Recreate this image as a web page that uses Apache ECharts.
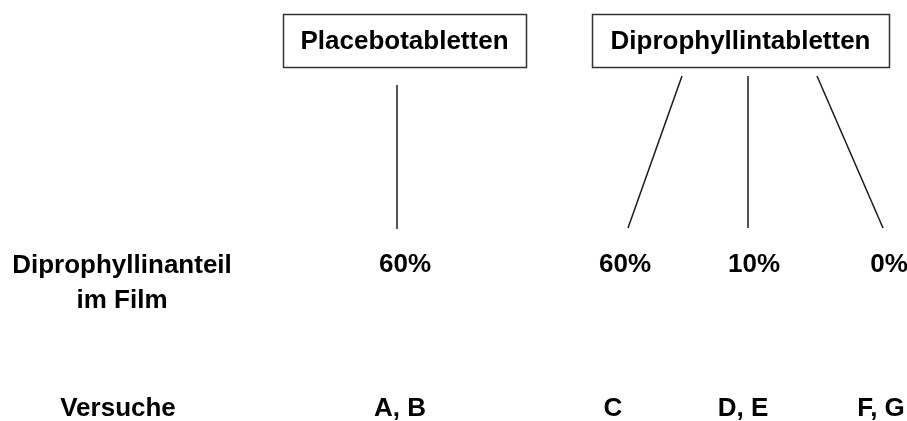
<!DOCTYPE html>
<html>
<head>
<meta charset="utf-8">
<script src="https://cdn.jsdelivr.net/npm/echarts@6/dist/echarts.min.js"></script>
<style>
html, body { margin: 0; padding: 0; background: #fff; }
#chart { width: 907px; height: 421px; }
</style>
</head>
<body>
<div id="chart"></div>
<script>
// diagram content
const groups = ["Placebotabletten", "Diprophyllintabletten"]
const shares = ["60%", "60%", "10%", "0%"]
const trials = ["A, B", "C", "D, E", "F, G"]
const rowLabels = ["Diprophyllinanteil\nim Film", "Versuche"]

// layout on a hidden pixel-sized axis (907 x 421)
const groupBox = [[283, 14, 526, 67], [592, 14, 889, 67]]
const linkTop = [[397, 85], [682, 76], [748, 76], [817, 76]]
const linkBottom = [[397, 229], [628, 228], [748, 228], [883, 228]]
const shareX = [405, 625, 754, 889]
const trialX = [400, 613, 743, 881]
const rowLabelPos = [[122, 283], [118, 409]]
const shareY = 265
const trialY = 409

const font = "Liberation Sans, Arial, sans-serif"
const textStyle = {
  show: true,
  position: "inside",
  color: "#000",
  fontFamily: font,
  fontWeight: "bold",
  fontSize: 26,
  lineHeight: 35,
  align: "center",
  verticalAlign: "middle",
  formatter: "{b}"
}

const textData = []
shares.forEach((s, i) => textData.push({ name: s, value: [shareX[i], shareY] }))
trials.forEach((t, i) => textData.push({ name: t, value: [trialX[i], trialY] }))
rowLabels.forEach((r, i) => textData.push({ name: r, value: rowLabelPos[i] }))

const chart = echarts.init(document.getElementById("chart"))
chart.setOption({
  animation: false,
  grid: { left: 0, right: 0, top: 0, bottom: 0 },
  xAxis: { type: "value", min: 0, max: 907, show: false },
  yAxis: { type: "value", min: 0, max: 421, inverse: true, show: false },
  series: [
    {
      type: "custom",
      silent: true,
      data: groupBox,
      renderItem(params, api) {
        const p0 = api.coord([api.value(0), api.value(1)])
        const p1 = api.coord([api.value(2), api.value(3)])
        return {
          type: "group",
          children: [
            {
              type: "rect",
              shape: {
                x: Math.round(p0[0]) + 0.5,
                y: Math.round(p0[1]) + 0.5,
                width: Math.round(p1[0] - p0[0]),
                height: Math.round(p1[1] - p0[1])
              },
              style: { fill: "#fff", stroke: "#333", lineWidth: 1.5 }
            },
            {
              type: "text",
              style: {
                text: groups[params.dataIndex],
                x: (p0[0] + p1[0]) / 2,
                y: (p0[1] + p1[1]) / 2 + 1,
                align: "center",
                verticalAlign: "middle",
                fontFamily: font,
                fontWeight: "bold",
                fontSize: 26,
                fill: "#000"
              }
            }
          ]
        }
      }
    },
    {
      type: "lines",
      coordinateSystem: "cartesian2d",
      silent: true,
      lineStyle: { color: "#1a1a1a", width: 1.5, opacity: 1 },
      data: linkTop.map((p, i) => ({ coords: [p, linkBottom[i]] }))
    },
    {
      type: "scatter",
      silent: true,
      symbolSize: 0,
      itemStyle: { opacity: 1 },
      label: textStyle,
      data: textData
    }
  ]
})
</script>
</body>
</html>
